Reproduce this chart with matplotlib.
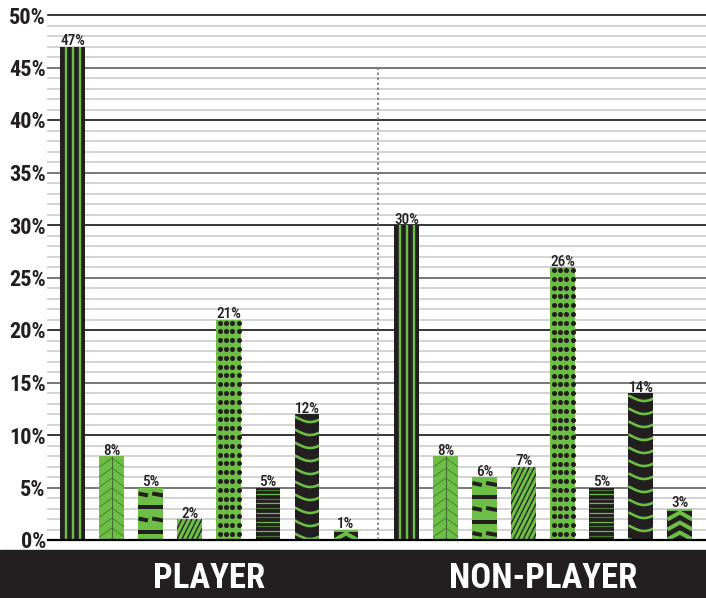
import numpy as np
import matplotlib.pyplot as plt
from matplotlib.patches import Rectangle

# share of respondents per answer, two groups of eight answers
groups = ["PLAYER", "NON-PLAYER"]
player = [47, 8, 5, 2, 21, 5, 12, 1]
non_player = [30, 8, 6, 7, 26, 5, 14, 3]
ytick_values = [0, 5, 10, 15, 20, 25, 30, 35, 40, 45, 50]

GREEN = "#6dbe45"
BLACK = "#231f20"
DARKG = "#3f6b2f"
NARROW = ["Roboto Condensed", "Liberation Sans Narrow", "Roboto", "DejaVu Sans"]

fig = plt.figure(figsize=(7.06, 5.98), dpi=100)
ax = fig.add_axes([48 / 706, 58 / 598, 658 / 706, 525 / 598])

gap = 1.56
pos_p = np.arange(len(player))
pos_n = np.arange(len(non_player)) + len(player) + gap - 1
ax.set_xlim(-0.64, 16.23)
ax.set_ylim(0, 50)

# grid: light every 1%, darker every 5%, black every 10%
for v in range(1, 51):
    if v % 10 == 0:
        ax.axhline(v, color="black", lw=1.1, zorder=1, clip_on=False)
    elif v % 5 == 0:
        ax.axhline(v, color="#777777", lw=1.4, zorder=1, clip_on=False)
    else:
        ax.axhline(v, color="#d0d0d0", lw=1.3, zorder=1, clip_on=False)
ax.axhline(0, color="black", lw=1.6, zorder=5, clip_on=False)

divider = (pos_p[-1] + pos_n[0]) / 2 + 0.05
ax.plot([divider, divider], [0, 45], color="#777777", lw=1.2,
        ls=(0, (1.5, 1.5)), zorder=2)

faces = [BLACK, GREEN, GREEN, GREEN, GREEN, BLACK, BLACK, BLACK]
width = 0.64
bars_p = ax.bar(pos_p, player, width, color=faces, zorder=3, linewidth=0)
bars_n = ax.bar(pos_n, non_player, width, color=faces, zorder=3, linewidth=0)

fig.canvas.draw()
o = ax.transData.transform((0, 0))
sx = ax.transData.transform((1, 0))[0] - o[0]
sy = ax.transData.transform((0, 1))[1] - o[1]
PT = 72 / fig.dpi  # pixels -> points


def draw(patch, xs, ys, **kw):
    x0 = patch.get_x()
    ln, = ax.plot(x0 + np.asarray(xs) / sx, np.asarray(ys) / sy,
                  zorder=4, solid_capstyle="butt", **kw)
    ln.set_clip_path(patch)


def decorate(patch, kind):
    w = patch.get_width() * sx
    h = patch.get_height() * sy
    if kind == 0:  # vertical stripes
        for f in (0.22, 0.5, 0.78):
            draw(patch, [w * f, w * f], [0, h], color=GREEN, lw=2.4 * PT)
    elif kind == 1:  # fishbone
        draw(patch, [w / 2, w / 2], [0, h], color=DARKG, lw=1.0 * PT)
        for y in np.arange(h - 2, -12, -10):
            draw(patch, [0, w / 2, w], [y - 9, y, y - 9], color=DARKG, lw=0.7 * PT)
    elif kind == 2:  # broken dashes
        for i, y in enumerate(np.arange(h - 7, 0, -12.5)):
            if i % 2:
                draw(patch, [0, w], [y, y], color=BLACK, lw=4 * PT)
            else:
                draw(patch, [0, w * 0.38], [y + 1, y - 1], color=BLACK, lw=4 * PT)
                draw(patch, [w * 0.55, w], [y + 1, y - 1], color=BLACK, lw=4 * PT)
    elif kind == 3:  # diagonal hatch
        for x in np.arange(-h, w + 5, 5):
            draw(patch, [x, x + h * 0.5], [0, h], color=BLACK, lw=1.3 * PT)
    elif kind == 4:  # dots
        cols = np.array([3.5, 9.8, 16, 22.3]) * w / 25
        for y in np.arange(h - 3, 0, -8.8):
            draw(patch, cols, np.full(4, y), ls="none", marker="o",
                 ms=3.6 * PT, color=BLACK)
    elif kind == 5:  # fine horizontal lines
        for i, y in enumerate(np.arange(h - 2, 0, -4.6)):
            draw(patch, [0, w], [y, y], color=GREEN, lw=1.2 * PT,
                 alpha=1.0 if i % 2 else 0.55)
    elif kind == 6:  # waves
        t = np.linspace(0, w, 30)
        for y in np.arange(h - 4, -6, -13):
            draw(patch, t, y - 4 * np.sin(np.pi * t / w - 0.4),
                 color=GREEN, lw=2.6 * PT)
    elif kind == 7:  # chevrons
        draw(patch, [0, w], [h - 1, h - 1], color=GREEN, lw=2 * PT)
        for y in np.arange(h - 4, -8, -10):
            draw(patch, [0, w / 2, w], [y - 7, y, y - 7], color=GREEN, lw=4 * PT)


for bars, vals in ((bars_p, player), (bars_n, non_player)):
    for k, (patch, v) in enumerate(zip(bars, vals)):
        decorate(patch, k)
        ax.text(patch.get_x() + patch.get_width() / 2, v - 0.15, f"{v}%",
                ha="center", va="bottom", fontsize=11, family=NARROW,
                fontweight="medium", color=BLACK, zorder=6)

ax.set_yticks(ytick_values)
ax.set_yticklabels([f"{t}%" for t in ytick_values], family=NARROW,
                   fontweight="bold", fontsize=16, color=BLACK)
ax.tick_params(axis="y", length=0, pad=1.5)
ax.set_xticks([])
for s in ax.spines.values():
    s.set_visible(False)

# group band at the bottom
fig.patches.append(Rectangle((0, 0), 1, 48 / 598, transform=fig.transFigure,
                             color=BLACK, zorder=-1))
for name, pos in zip(groups, (pos_p, pos_n)):
    ax.annotate(name, xy=(pos.mean(), 19 / 598),
                xycoords=("data", "figure fraction"), ha="center", va="center",
                color="white", fontsize=25, fontweight="bold", family=NARROW,
                annotation_clip=False)

fig.savefig("out.png", dpi=100)
